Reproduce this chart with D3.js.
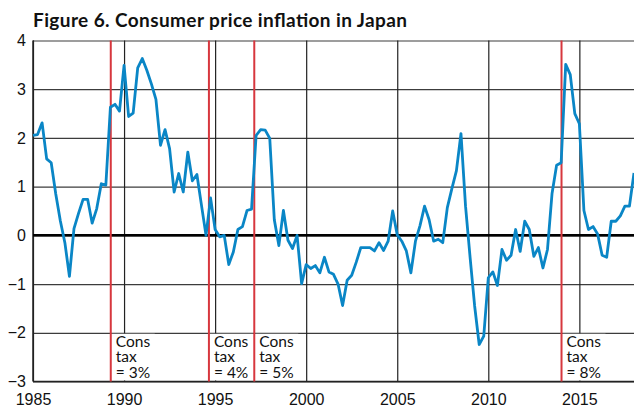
<!DOCTYPE html>
<html>
<head>
<meta charset="utf-8">
<script src="https://cdn.jsdelivr.net/npm/d3@7"></script>
<style>
  body { margin: 0; background: #fff; }
  svg { display: block; font-family: Lato, 'Open Sans', sans-serif; }
  .tick text { font-size: 16px; fill: #111; }
  .taxLabel { font-size: 15.5px; fill: #111; }
</style>
</head>
<body>
<svg id="svg_cpi" width="634" height="407"></svg>
<script>
// quarterly CPI inflation (%), starting 1985 Q1
const startYear = 1985
const cpi = [
  2.05, 2.07, 2.31, 1.57, 1.49, 0.85, 0.3, -0.15, -0.84, 0.14,
  0.45, 0.74, 0.74, 0.25, 0.55, 1.06, 1.03, 2.63, 2.69, 2.55,
  3.49, 2.44, 2.51, 3.44, 3.63, 3.39, 3.11, 2.79, 1.85, 2.17,
  1.78, 0.89, 1.27, 0.89, 1.71, 1.12, 1.25, 0.62, 0.0, 0.77,
  0.12, -0.03, 0.0, -0.6, -0.34, 0.12, 0.18, 0.51, 0.54, 2.05,
  2.17, 2.16, 1.99, 0.32, -0.21, 0.51, -0.1, -0.27, 0.0, -0.99,
  -0.6, -0.68, -0.62, -0.77, -0.45, -0.75, -0.8, -1.0, -1.44, -0.92,
  -0.82, -0.55, -0.25, -0.25, -0.25, -0.32, -0.15, -0.31, -0.12, 0.5,
  0.01, -0.12, -0.32, -0.77, -0.12, 0.2, 0.6, 0.32, -0.12, -0.08,
  -0.15, 0.57, 0.96, 1.33, 2.09, 0.6, -0.45, -1.45, -2.24, -2.07,
  -0.87, -0.75, -1.03, -0.29, -0.51, -0.41, 0.12, -0.33, 0.29, 0.12,
  -0.43, -0.25, -0.67, -0.29, 0.86, 1.44, 1.49, 3.51, 3.3, 2.5,
  2.29, 0.51, 0.12, 0.18, 0.03, -0.41, -0.45, 0.29, 0.29, 0.4,
  0.6, 0.6, 1.28
]

// consumption tax changes
const taxDates = [1989.27, 1994.66, 1997.15, 2014.02]
const taxLabels = ['= 3%', '= 4%', '= 5%', '= 8%']

const xTicks = [1985, 1990, 1995, 2000, 2005, 2010, 2015]
const yTicks = [-3, -2, -1, 0, 1, 2, 3, 4]

const svg = d3.select('#svg_cpi')

const margin = { top: 40.5, right: 0, bottom: 25.5, left: 33 }
const width = 634 - (margin.left + margin.right)
const height = 407 - (margin.top + margin.bottom)

const x = d3.scaleLinear().domain([1985, 2018]).range([0, width])
const y = d3.scaleLinear().domain([-3, 4]).range([height, 0])

const data = cpi.map((v, i) => ({ date: startYear + i / 4, value: v }))

svg.append('text')
  .text('Figure 6. Consumer price inflation in Japan')
  .attr('x', 33)
  .attr('y', 27)
  .attr('font-size', 19)
  .attr('font-weight', 'bold')
  .attr('fill', '#111')
  .attr('textLength', 374)
  .attr('lengthAdjust', 'spacing')

const chart = svg.append('g')
  .attr('transform', `translate(${margin.left}, ${margin.top})`)

// horizontal grid + y labels
const yAxis = chart.append('g')
  .call(d3.axisLeft(y).tickValues(yTicks).tickFormat(d3.format('d')).tickSize(-width).tickPadding(7))
yAxis.select('.domain').remove()
yAxis.selectAll('.tick line').attr('stroke', '#3c3c3c').attr('stroke-width', 1.2)

// vertical grid + x labels
const xAxis = chart.append('g')
  .attr('transform', `translate(0, ${height})`)
  .call(d3.axisBottom(x).tickValues(xTicks).tickFormat(d3.format('d')).tickSize(-height).tickPadding(12))
xAxis.select('.domain').remove()
xAxis.selectAll('.tick line').attr('stroke', '#222').attr('stroke-width', 1.2)

// white boxes behind the tax labels
chart.append('g')
  .selectAll('rect')
  .data(taxDates)
  .enter()
  .append('rect')
  .attr('x', d => x(d) + 1)
  .attr('y', y(-2) + 1)
  .attr('width', 43)
  .attr('height', y(-3) - y(-2) - 2)
  .attr('fill', '#fff')

// frame lines: left axis, bottom
chart.append('line')
  .attr('x1', 0).attr('x2', 0)
  .attr('y1', 0).attr('y2', height)
  .attr('stroke', '#222').attr('stroke-width', 1.5)
chart.append('line')
  .attr('x1', 0).attr('x2', width)
  .attr('y1', y(-3)).attr('y2', y(-3))
  .attr('stroke', '#222').attr('stroke-width', 1.5)

// zero line
chart.append('line')
  .attr('x1', 0).attr('x2', width)
  .attr('y1', y(0)).attr('y2', y(0))
  .attr('stroke', '#000').attr('stroke-width', 2.5)

// tax lines
chart.append('g')
  .selectAll('line')
  .data(taxDates)
  .enter()
  .append('line')
  .attr('x1', d => x(d)).attr('x2', d => x(d))
  .attr('y1', 0).attr('y2', height)
  .attr('stroke', '#d7373e')
  .attr('stroke-width', 2)

// one text per label line
const labelLines = taxDates.flatMap((d, i) =>
  ['Cons', 'tax', taxLabels[i]].map((s, k) => ({ date: d, text: s, row: k })))

chart.append('g')
  .selectAll('text')
  .data(labelLines)
  .enter()
  .append('text')
  .attr('class', 'taxLabel')
  .attr('x', d => x(d.date) + 5)
  .attr('y', d => y(-2) + 14 + d.row * 15.7)
  .text(d => d.text)

// inflation line
const line = d3.line()
  .x(d => x(d.date))
  .y(d => y(d.value))

chart.append('path')
  .datum(data)
  .attr('d', line)
  .attr('fill', 'none')
  .attr('stroke', '#0a86c6')
  .attr('stroke-width', 2.8)
  .attr('stroke-linejoin', 'round')
</script>
</body>
</html>
